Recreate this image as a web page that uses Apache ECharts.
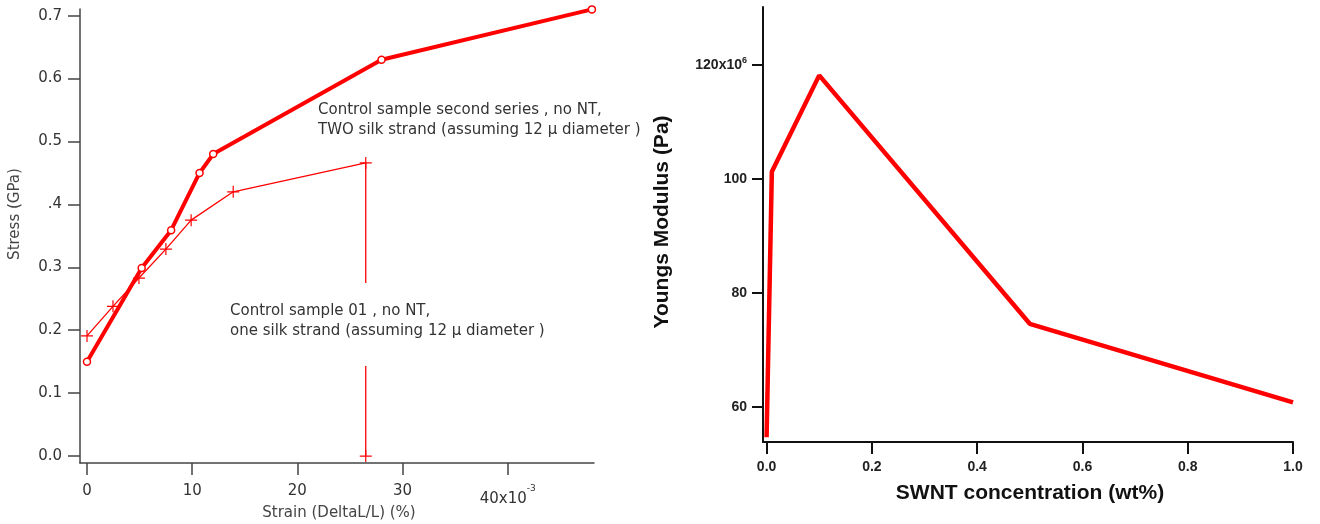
<!DOCTYPE html>
<html><head><meta charset="utf-8">
<script src="https://cdn.jsdelivr.net/npm/echarts@6/dist/echarts.min.js"></script>
<style>html,body{margin:0;padding:0;background:#fff}#c{width:1320px;height:524px}</style>
</head><body><div id="c"></div>
<script>
// Left chart: stress vs strain
const strainSecond = [0, 0.0052, 0.0080, 0.0107, 0.0120, 0.0280, 0.0480];
const stressSecond = [0.150, 0.299, 0.359, 0.450, 0.480, 0.630, 0.710];
const strainFirst = [0, 0.00247, 0.00494, 0.0075, 0.0099, 0.0139, 0.0265, 0.0265];
const stressFirst = [0.191, 0.238, 0.283, 0.329, 0.375, 0.420, 0.466, 0.0];
const leftXTicks = [0, 0.01, 0.02, 0.03, 0.04];
const leftXLabels = ['0', '10', '20', '30', '{m|40x10}{sup|-3}'];
const leftYTicks = [0, 0.1, 0.2, 0.3, 0.4, 0.5, 0.6, 0.7];
const leftYLabels = ['0.0', '0.1', '0.2', '0.3', '.4', '0.5', '0.6', '0.7'];
// Right chart: Young's modulus vs SWNT concentration
const swnt = [0, 0.01, 0.1, 0.5, 1.0];
const modulus = [54.7e6, 101.3e6, 118.2e6, 74.6e6, 60.8e6];
const rightXTicks = [0, 0.2, 0.4, 0.6, 0.8, 1.0];
const rightYTicks = [60e6, 80e6, 100e6, 120e6];
const rightYLabels = ['60', '80', '100', '120x10{sup|6}'];

const pair = (xs, ys) => xs.map((x, i) => [x, ys[i]]);
const plusPath = 'path://M-0.6,-6h1.2v5.4h5.4v1.2h-5.4v5.4h-1.2v-5.4h-5.4v-1.2h5.4z';
const leftFont = 'DejaVu Sans';
const rightFont = 'Liberation Sans';

const chart = echarts.init(document.getElementById('c'), null, {renderer: 'canvas'});
chart.setOption({
  animation: false,
  backgroundColor: '#fff',
  grid: [
    {left: 80, top: 9, width: 514, height: 454},
    {left: 763, top: 7, width: 530, height: 435}
  ],
  xAxis: [
    {
      gridIndex: 0, type: 'value', min: -0.000665, max: 0.0482,
      splitLine: {show: false},
      axisLine: {onZero: false, lineStyle: {color: '#444', width: 1.5}},
      axisTick: {customValues: leftXTicks, length: 12, lineStyle: {color: '#444', width: 1.5}},
      axisLabel: {
        customValues: leftXTicks, margin: 21, color: '#333', fontFamily: leftFont, fontSize: 15,
        formatter: (v) => leftXLabels[leftXTicks.findIndex(t => Math.abs(t - v) < 1e-9)],
        rich: {
          m: {fontSize: 15, color: '#333', fontFamily: leftFont, padding: [8, 0, 0, 0]},
          sup: {fontSize: 9, color: '#333', fontFamily: leftFont, verticalAlign: 'top'}
        }
      }
    },
    {
      gridIndex: 1, type: 'value', min: -0.0068, max: 1.0,
      splitLine: {show: false},
      axisLine: {onZero: false, lineStyle: {color: '#111', width: 2}},
      axisTick: {customValues: rightXTicks, length: 12, lineStyle: {color: '#111', width: 2}},
      axisLabel: {
        customValues: rightXTicks, margin: 18, color: '#222', fontFamily: rightFont, fontSize: 14, fontWeight: 'bold',
        formatter: (v) => v.toFixed(1)
      }
    }
  ],
  yAxis: [
    {
      gridIndex: 0, type: 'value', min: -0.011, max: 0.7106,
      splitLine: {show: false},
      axisLine: {onZero: false, lineStyle: {color: '#444', width: 1.5}},
      axisTick: {customValues: leftYTicks, length: 12, lineStyle: {color: '#444', width: 1.5}},
      axisLabel: {
        customValues: leftYTicks, margin: 18, color: '#333', fontFamily: leftFont, fontSize: 15,
        formatter: (v) => leftYLabels[leftYTicks.findIndex(t => Math.abs(t - v) < 1e-9)]
      }
    },
    {
      gridIndex: 1, type: 'value', min: 53.86e6, max: 130.2e6,
      splitLine: {show: false},
      axisLine: {onZero: false, lineStyle: {color: '#111', width: 2}},
      axisTick: {customValues: rightYTicks, length: 11, lineStyle: {color: '#111', width: 2}},
      axisLabel: {
        customValues: rightYTicks, margin: 16, color: '#222', fontFamily: rightFont, fontSize: 14, fontWeight: 'bold',
        formatter: (v) => rightYLabels[rightYTicks.findIndex(t => Math.abs(t - v) < 1)],
        rich: {sup: {fontSize: 9, fontWeight: 'bold', color: '#222', fontFamily: rightFont, padding: [0, 0, 10, 0]}}
      }
    }
  ],
  series: [
    {
      type: 'line', xAxisIndex: 0, yAxisIndex: 0, data: pair(strainFirst, stressFirst),
      lineStyle: {color: '#ff0000', width: 1.3}, itemStyle: {color: '#ff0000'},
      symbol: plusPath, symbolSize: 12, showSymbol: true, z: 2
    },
    {
      type: 'line', xAxisIndex: 0, yAxisIndex: 0, data: pair(strainSecond, stressSecond),
      lineStyle: {color: '#ff0000', width: 4}, itemStyle: {color: '#fff', borderColor: '#ff0000', borderWidth: 1.5},
      symbol: 'circle', symbolSize: 7, showSymbol: true, z: 3
    },
    {
      type: 'line', xAxisIndex: 1, yAxisIndex: 1, data: pair(swnt, modulus),
      lineStyle: {color: '#ff0000', width: 4.5}, symbol: 'none', z: 3
    }
  ],
  graphic: [
    {type: 'text', z: 100, left: 318, top: 100,
     style: {text: 'Control sample second series , no NT,\nTWO silk strand (assuming 12 \u03bc diameter )',
       fill: '#333', font: '15px "DejaVu Sans"', lineHeight: 20}},
    {type: 'text', z: 100, left: 226, top: 283,
     style: {text: 'Control sample 01 , no NT,\none silk strand (assuming 12 \u03bc diameter )',
       fill: '#333', font: '15px "DejaVu Sans"', lineHeight: 20, backgroundColor: '#fff', padding: [18, 4, 25, 4]}},
    {type: 'text', z: 100, x: 15, y: 214, rotation: Math.PI / 2,
     style: {text: 'Stress (GPa)', fill: '#444', font: '15px "DejaVu Sans"', align: 'center', verticalAlign: 'middle'}},
    {type: 'text', z: 100, x: 339, y: 513,
     style: {text: 'Strain (DeltaL/L) (%)', fill: '#444', font: '15px "DejaVu Sans"', align: 'center', verticalAlign: 'middle'}},
    {type: 'text', z: 100, x: 662, y: 222, rotation: Math.PI / 2,
     style: {text: 'Youngs Modulus (Pa)', fill: '#111', font: 'bold 21px "Liberation Sans"', align: 'center', verticalAlign: 'middle'}},
    {type: 'text', z: 100, x: 1030, y: 493,
     style: {text: 'SWNT concentration (wt%)', fill: '#111', font: 'bold 21px "Liberation Sans"', align: 'center', verticalAlign: 'middle'}}
  ]
});
</script></body></html>
